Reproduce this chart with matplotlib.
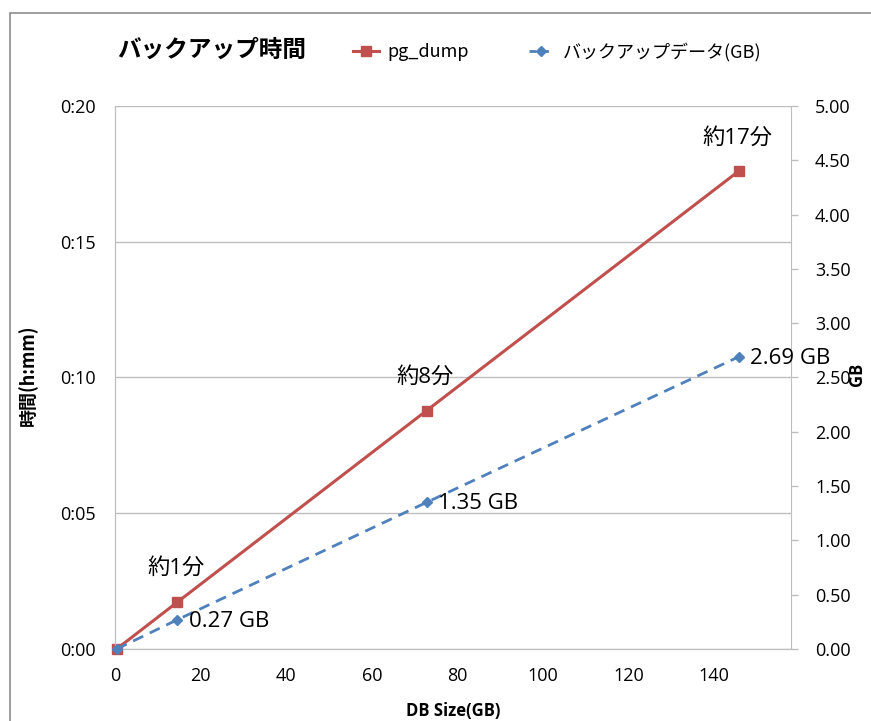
import matplotlib.pyplot as plt
from matplotlib.lines import Line2D
from matplotlib.patches import Rectangle

plt.rcParams['font.family'] = ['Open Sans', 'Noto Sans CJK JP', 'DejaVu Sans']
CJK = ['Noto Sans CJK JP', 'DejaVu Sans']

# DB size (GB) for each run
db_size = [0.4, 14.6, 72.8, 145.7]
# pg_dump time in minutes
dump_minutes = [0.0, 1.73, 8.78, 17.6]
# size of the backup file (GB)
backup_gb = [0.0, 0.27, 1.35, 2.69]

time_labels = ['', '約1分', '約8分', '約17分']
gb_labels = ['', '0.27 GB', '1.35 GB', '2.69 GB']

time_ticks = [0, 5, 10, 15, 20]
time_tick_labels = ['0:00', '0:05', '0:10', '0:15', '0:20']
x_ticks = [0, 20, 40, 60, 80, 100, 120, 140]
gb_ticks = [0.0, 0.5, 1.0, 1.5, 2.0, 2.5, 3.0, 3.5, 4.0, 4.5, 5.0]

red = '#C0504D'
blue = '#4F81BD'
grid = '#BEBEBE'

fig = plt.figure(figsize=(8.71, 7.21), dpi=100)
ax = fig.add_axes([0.1320, 0.0999, 0.7765, 0.7531])
ax2 = ax.twinx()

# chart frame
fig.patches.append(Rectangle((10 / 871, -0.05), 1.0, 1.05 - 13 / 721,
                             transform=fig.transFigure, fill=False,
                             edgecolor='#8C8C8C', linewidth=1.2))

ax.plot(db_size, dump_minutes, color=red, linewidth=2.2,
        marker='s', markersize=7, clip_on=False, zorder=3)
ax2.plot(db_size, backup_gb, color=blue, linewidth=2.0,
         linestyle=(0, (4, 2.6)), marker='D', markersize=5.5,
         clip_on=False, zorder=3)

for x, y, t in zip(db_size, dump_minutes, time_labels):
    if t:
        ax.annotate(t, (x, y), xytext=(-1, 24), textcoords='offset points',
                    ha='center', va='center', fontsize=16)
for x, y, t in zip(db_size, backup_gb, gb_labels):
    if t:
        ax2.annotate(t, (x, y), xytext=(8, -1), textcoords='offset points',
                     ha='left', va='center', fontsize=16)

ax.set_xlim(0, 158)
ax.set_ylim(0, 20)
ax2.set_ylim(0, 5)

ax.set_xticks(x_ticks)
ax.set_yticks(time_ticks)
ax.set_yticklabels(time_tick_labels)
ax2.set_yticks(gb_ticks)
ax2.set_yticklabels([f'{v:.2f}' for v in gb_ticks])

ax.grid(axis='y', color=grid, linewidth=1.0)
ax.set_axisbelow(True)
for a in (ax, ax2):
    a.spines['top'].set_visible(False)
    a.spines['left'].set_color(grid)
    a.spines['bottom'].set_color(grid)
    a.spines['right'].set_color(grid)
ax.spines['right'].set_visible(False)

ax.tick_params(axis='x', length=0, pad=13, labelsize=13)
ax.tick_params(axis='y', length=0, pad=14, labelsize=13)
ax2.tick_params(axis='y', length=5, width=1, color=grid, pad=12, labelsize=13)

ax.set_xlabel('DB Size(GB)', fontsize=12, fontweight='bold')
ax.xaxis.set_label_coords(0.5, -0.098)
ax.set_ylabel('時間(h:mm)', fontsize=13, fontweight='bold', family=CJK)
ax.yaxis.set_label_coords(-0.114, 0.505)
ax2.set_ylabel('GB', fontsize=12, fontweight='bold')
ax2.yaxis.set_label_coords(1.084, 0.505)

fig.text(117 / 871, 1 - 50 / 721, 'バックアップ時間', fontsize=17,
         fontweight='bold', ha='left', va='center', family=CJK)

handles = [
    Line2D([], [], color=red, linewidth=2.2, marker='s', markersize=7),
    Line2D([], [], color=blue, linewidth=2.0, linestyle=(0, (2.5, 2)),
           marker='D', markersize=5.5),
]
fig.legend(handles, ['pg_dump', 'バックアップデータ(GB)'], ncol=2,
           loc='center left', bbox_to_anchor=(337 / 871, 1 - 52 / 721),
           frameon=False, prop={'family': CJK, 'size': 13},
           handlelength=1.4, handletextpad=0.5, columnspacing=3.3)

fig.savefig('out.png', dpi=100)
